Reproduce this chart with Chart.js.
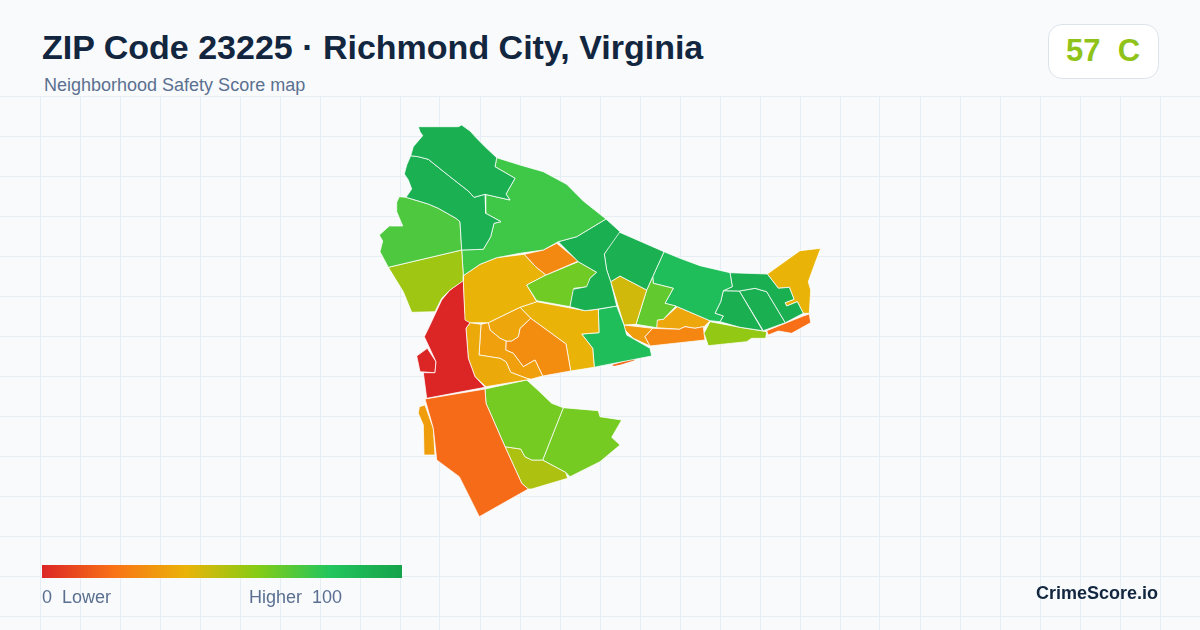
<!DOCTYPE html>
<html>
<head>
<meta charset="utf-8">
<title>ZIP Code 23225</title>
<script src="https://cdn.jsdelivr.net/npm/chart.js@4/dist/chart.umd.min.js"></script>
<style>
  html,body{margin:0;padding:0;background:#f8fafc;}
  body{width:1200px;height:630px;position:relative;overflow:hidden;font-family:"Liberation Sans",Arial,sans-serif;}
  #map{position:absolute;left:0;top:96px;width:1200px;height:534px;}
  .t{position:absolute;white-space:pre;line-height:1;}
  #title{left:42px;top:30px;font-size:34px;font-weight:700;color:#12263f;}
  #sub{left:44px;top:76px;font-size:18px;color:#5b7090;}
  #chip{position:absolute;left:1048px;top:24px;width:109px;height:53px;background:#fff;border:1px solid #dde3ec;border-radius:14px;}
  #grade{left:1066px;top:35px;font-size:31px;font-weight:700;color:#8fc31a;}
  #bar{position:absolute;left:42px;top:565px;width:360px;height:13px;}
  #lo{left:42px;top:588px;font-size:18px;color:#5b7090;}
  #hi{left:249px;top:588px;font-size:18px;color:#5b7090;}
  #brand{right:42px;top:584px;font-size:18px;font-weight:700;color:#12263f;}
</style>
</head>
<body>
<canvas id="map" width="1200" height="534"></canvas>
<div class="t" id="title">ZIP Code 23225 · Richmond City, Virginia</div>
<div class="t" id="sub">Neighborhood Safety Score map</div>
<div id="chip"></div>
<div class="t" id="grade">57  C</div>
<div id="bar"></div>
<div class="t" id="lo">0  Lower</div>
<div class="t" id="hi">Higher  100</div>
<div class="t" id="brand">CrimeScore.io</div>
<script>
// score scale
const scaleStops = [0,20,40,60,80,100];
const scaleColors = ['#dc2626','#f97316','#eab308','#84cc16','#22c55e','#16a34a'];

// grid
const gridX = [40,80,120,160,200,240,280,320,360,400,440,480,520,560,600,640,680,720,760,800,840,880,920,960,1000,1040,1080,1120,1160];
const gridY = [96,136,176,216,256,296,336,376,416,456,496,536,576,616];

// neighborhood scores, same order as the outlines below
const scores = [93,92,71,55,74,93,92,27,64,40,0,0,37,34,36,28,40,84,17,45,67,84,93,93,93,40,19,57,26,36,33,18,33,63,63,52];

// neighborhood outlines, map units
const outlines = [
  [[418.3,126.7],[458.3,126.7],[461.7,125],[470,131],[476.7,138.3],[485,146.7],[496.7,157.7],[495,166.7],[515,178.3],[506,194],[510,200],[485,194.3],[474,197.3],[468.3,191],[450,176.7],[428.3,159.3],[418.3,156.7],[410.7,155.7],[413.3,146.7],[422.7,135.7],[420,131.7]],
  [[410.7,155.7],[418.3,156.7],[428.3,159.3],[450,176.7],[468.3,191],[474,197.3],[485,194.3],[485.7,213.3],[501,221.7],[494,223.3],[490.7,236.7],[483.3,249.3],[461.7,250],[460,221.7],[456,218.3],[438.3,208.3],[428.3,204],[406,197.3],[411.7,189],[408.3,180],[404.3,174],[406.7,165]],
  [[399.3,196.7],[406,197.3],[428.3,204],[438.3,208.3],[456,218.3],[460,221.7],[461.7,250],[388.3,267.3],[380,251.7],[382.7,241],[379.3,235],[389.3,226],[402.7,226],[396.7,211.7],[396.7,202.3]],
  [[388.3,267.3],[461.7,250],[463.3,275.7],[463.3,280.7],[450,290],[441.7,298.3],[435,311.7],[411.7,312.3],[403.3,291.7]],
  [[496.7,157.7],[520,165],[543.3,171.7],[566.7,184.3],[583.3,201],[606,219],[576.7,236.7],[558.3,241.7],[543.3,250],[520,253.3],[496.7,257.7],[480,264.3],[463.3,275.7],[461.7,250],[483.3,249.3],[490.7,236.7],[494,223.3],[501,221.7],[485.7,213.3],[485,194.3],[510,200],[506,194],[515,178.3],[495,166.7]],
  [[606,219],[620,231.7],[604.3,254],[606.7,270],[610.7,281.7],[616.7,306],[596.7,309.3],[585,310.7],[570,306.7],[573.3,289.3],[586.7,286.7],[590,278.3],[596.7,272.3],[578.3,261.7],[558.3,241.7],[576.7,236.7]],
  [[618.3,231.7],[664,251.7],[652.7,276.7],[646.7,290],[620,276],[610.7,281.7],[606.7,270],[604.3,254]],
  [[556.7,243.3],[578.3,261],[546,275],[535.7,266.7],[524.3,254.3],[543.3,250]],
  [[578.3,261.7],[596.7,272.3],[590,278.3],[588.3,286.7],[574,288.3],[570,306.7],[536.7,300.7],[526.7,285],[546,275]],
  [[463.3,275.7],[480,264.3],[496.7,257.7],[524.3,254.3],[535.7,266.7],[546,275],[526.7,285],[536.7,301.7],[520,307.3],[488.3,322.7],[470,322.7],[465,320],[463.3,280]],
  [[463.3,280],[465,313],[470,322.7],[466,328.3],[468.3,358.3],[475,376.7],[485,387.3],[426.7,398.3],[423.3,372.7],[435,372.7],[436,361.7],[424.3,336.7],[430,325],[441.7,300],[450,290]],
  [[427.3,348.3],[436,361.7],[435,372.7],[420,371.7],[416.7,356]],
  [[470,322.7],[481,324.3],[479,355],[500,358.3],[506,361.7],[510.7,372.3],[526.7,378.3],[530.7,379.3],[486,386.7],[475,376.7],[468.3,358.3],[466,328.3]],
  [[481,324.3],[488.3,322.7],[490,330],[500,338.3],[506,341],[505.7,350],[513.3,353.3],[523.3,366.7],[535,360],[542.7,376],[530.7,379.3],[526.7,378.3],[510.7,372.3],[506,361.7],[500,358.3],[479,355]],
  [[488.3,322.7],[520,307.3],[530.7,318.3],[520,328.3],[518.3,336.7],[511.7,341],[506,341],[500,338.3],[490,330]],
  [[530.7,318.3],[566,344],[570.7,371],[542.7,376],[535,360],[523.3,366.7],[513.3,353.3],[505.7,350],[506,341],[511.7,341],[518.3,336.7],[520,328.3]],
  [[520,307.3],[536.7,301.7],[585,310.7],[598.3,309.3],[599,332.7],[581.7,334],[592.7,348.3],[594.3,367.3],[570.7,371],[566,344],[530.7,318.3]],
  [[598.3,309.3],[616.7,306],[624,325],[626.7,335],[650,348.3],[651.7,356],[596.7,366.7],[594.3,367.3],[592.7,348.3],[581.7,334],[599,332.7]],
  [[612,365],[636,358],[634,360.5],[621,364.5],[614,366]],
  [[610.7,281.7],[620,276],[646.7,290],[636,324.3],[624,325]],
  [[646.7,290],[652.7,276.7],[653.3,283.3],[673.3,288.3],[665,303.3],[676,306],[663.3,319.3],[657.3,320],[656.7,327.7],[636,324.3]],
  [[664,251.7],[680,258.3],[700,265.7],[730,272.7],[732.3,286.7],[723.3,290.7],[720.7,301.7],[715,313.3],[723.3,316],[720,321.7],[710,320.7],[677.3,306.7],[665,303.3],[673.3,288.3],[653.3,283.3],[652.7,276.7]],
  [[730,272.7],[767.3,274],[778.3,288.3],[789.3,287.3],[794,299.3],[785,302.7],[786.7,306],[797.3,301.7],[803.3,313.3],[785.3,322.7],[766.7,291.7],[755,288.3],[739.3,291],[723.3,290.7],[732.3,286.7]],
  [[723.3,290.7],[739.3,291],[762.7,330.7],[740,327.3],[720,321.7],[723.3,316],[715,313.3],[720.7,301.7]],
  [[739.3,291],[755,288.3],[766.7,291.7],[785.3,322.7],[763.3,330.7]],
  [[767.3,274],[800,250.7],[820.7,248.3],[815,263.3],[808.3,281.7],[810.7,290],[809.3,313.3],[803.3,313.3],[797.3,301.7],[786.7,306],[785,302.7],[794,299.3],[789.3,287.3],[778.3,288.3]],
  [[766.7,330.7],[803.3,316],[809.3,314],[810.7,322.7],[791.7,333.3],[778.3,331],[768.3,335]],
  [[710,321.7],[740,327.3],[766.7,331.7],[765.7,338.3],[759.3,338.3],[751.7,338.3],[746.7,341.7],[708.3,345.7],[704,333.3]],
  [[645,336.7],[652.7,328.3],[679.3,329.3],[685,326.7],[695,328.3],[703.3,326.7],[705,340],[650,346]],
  [[656.7,320],[663.3,319.3],[677.3,306.7],[710,320.7],[704,326.7],[695,328.3],[685,326.7],[679.3,329.3],[656.7,327.7]],
  [[624,325],[652.7,328.3],[645,336.7],[650,346],[633.3,338.3],[625,330]],
  [[425,399],[485,389],[486,403.3],[505,446.7],[521.7,483.3],[528.3,489],[479.3,516.7],[459.3,476.7],[436.7,460],[433.3,428.3]],
  [[425,405],[433.3,428.3],[435,455],[424,455],[423.3,425],[418.3,413.3],[419.3,406.7]],
  [[485,389],[526.7,380],[536.7,389],[551.7,403.3],[563.3,407.7],[542.7,460],[531.7,460],[525,456.7],[520.7,449],[505,446.7],[486,403.3]],
  [[563.3,407.7],[598.3,410.7],[600,416.7],[621.7,420],[611.7,437.3],[620,445],[600,461.7],[570,476.7],[565.7,472.3],[542.7,460]],
  [[505,446.7],[520.7,449],[525,456.7],[531.7,460],[542.7,460],[565.7,472.3],[567.7,478.3],[531.7,489],[528.3,489],[521.7,483.3]]
];

function hexRgb(h){
  return [1,3,5].map(i=>parseInt(h.slice(i,i+2),16));
}
function scoreColor(v){
  let i = 0;
  while(i<scaleStops.length-2 && v>scaleStops[i+1]) i++;
  const t = (v-scaleStops[i])/(scaleStops[i+1]-scaleStops[i]);
  const a = hexRgb(scaleColors[i]), b = hexRgb(scaleColors[i+1]);
  const c = a.map((x,k)=>Math.round(x+(b[k]-x)*t));
  return 'rgb('+c.join(',')+')';
}

document.getElementById('bar').style.background =
  'linear-gradient(90deg,'+scaleColors.map((c,i)=>c+' '+scaleStops[i]+'%').join(',')+')';

const datasets = outlines.map((shape,i)=>({
  label: 'Area '+(i+1),
  data: shape.concat([shape[0]]).map(p=>({x:p[0],y:p[1]})),
  showLine: true,
  fill: 'shape',
  backgroundColor: scoreColor(scores[i]),
  borderColor: 'rgba(255,255,255,0.85)',
  borderWidth: scores[i]===17 ? 0 : 0.9,
  pointRadius: 0,
  pointHoverRadius: 0,
  tension: 0
}));

new Chart(document.getElementById('map'), {
  type: 'scatter',
  data: { datasets: datasets },
  options: {
    responsive: false,
    animation: false,
    devicePixelRatio: 1,
    layout: { padding: 0 },
    plugins: { legend: { display:false }, tooltip: { enabled:false }, title: { display:false } },
    scales: {
      x: {
        type: 'linear', min: 0, max: 1200,
        afterBuildTicks: s => { s.ticks = gridX.map(v=>({value:v})); },
        ticks: { display:false },
        border: { display:false },
        grid: { color:'#e7eef3', lineWidth:1, drawTicks:false }
      },
      y: {
        type: 'linear', min: 96, max: 630, reverse: true,
        afterBuildTicks: s => { s.ticks = gridY.map(v=>({value:v})); },
        ticks: { display:false },
        border: { display:false },
        grid: { color:'#e7eef3', lineWidth:1, drawTicks:false }
      }
    }
  }
});
</script>
</body>
</html>
